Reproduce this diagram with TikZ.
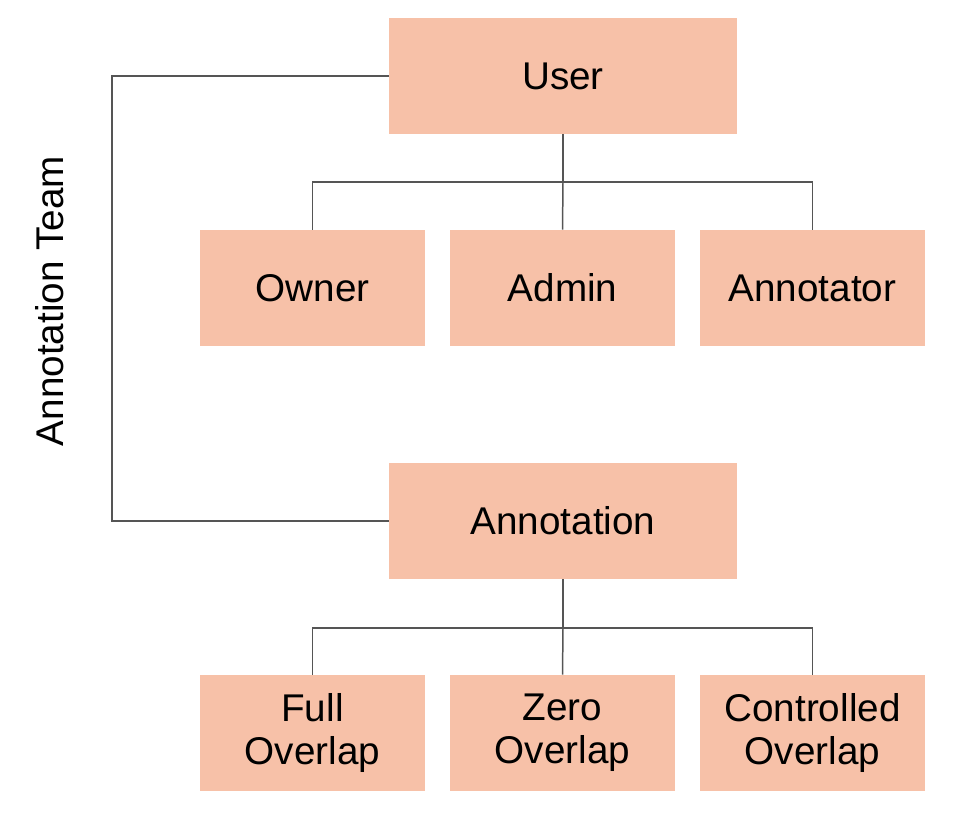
\documentclass[tikz,border=0pt]{standalone}
\usepackage{fontspec}
\setmainfont{Liberation Sans}
\definecolor{boxfill}{HTML}{F7C1A8}
\definecolor{linegray}{HTML}{555555}
\tikzset{
  rolebox/.style={fill=boxfill, minimum width=4.5cm, minimum height=2.32cm, align=center, inner sep=0pt, font=\fontsize{22}{24.5}\selectfont},
  mainbox/.style={rolebox, minimum width=6.96cm},
  link/.style={draw=linegray, line width=0.85pt}
}
\begin{document}
\begin{tikzpicture}
\useasboundingbox (0,0) rectangle (19.12,-16.26);
\node[mainbox] (user) at (11.26,-1.52) {User};
\node[rolebox] (owner) at (6.25,-5.76) {Owner};
\node[rolebox] (admin) at (11.25,-5.76) {Admin};
\node[rolebox] (annotator) at (16.25,-5.76) {Annotator};
\node[mainbox] (annotation) at (11.26,-10.42) {Annotation};
\node[rolebox] (full) at (6.25,-14.66) {Full\\Overlap};
\node[rolebox] (zero) at (11.25,-14.66) {Zero\\Overlap};
\node[rolebox] (controlled) at (16.25,-14.66) {Controlled\\Overlap};
\node[rotate=90, font=\fontsize{22}{24.5}\selectfont] (team) at (1.0,-6.02) {Annotation Team};
\coordinate (ub) at (11.26,-3.64);
\coordinate (ab) at (11.26,-12.56);
\coordinate (lx) at (2.24,-6.0);
\draw[link] (user.south) -- (ub);
\draw[link] (ub) -| (owner.north);
\draw[link] (ub) -| (annotator.north);
\draw[link] (ub) -- (admin.north);
\draw[link] (annotation.south) -- (ab);
\draw[link] (ab) -| (full.north);
\draw[link] (ab) -| (controlled.north);
\draw[link] (ab) -- (zero.north);
\draw[link] (user.west) -| (lx) |- (annotation.west);
\end{tikzpicture}
\end{document}
